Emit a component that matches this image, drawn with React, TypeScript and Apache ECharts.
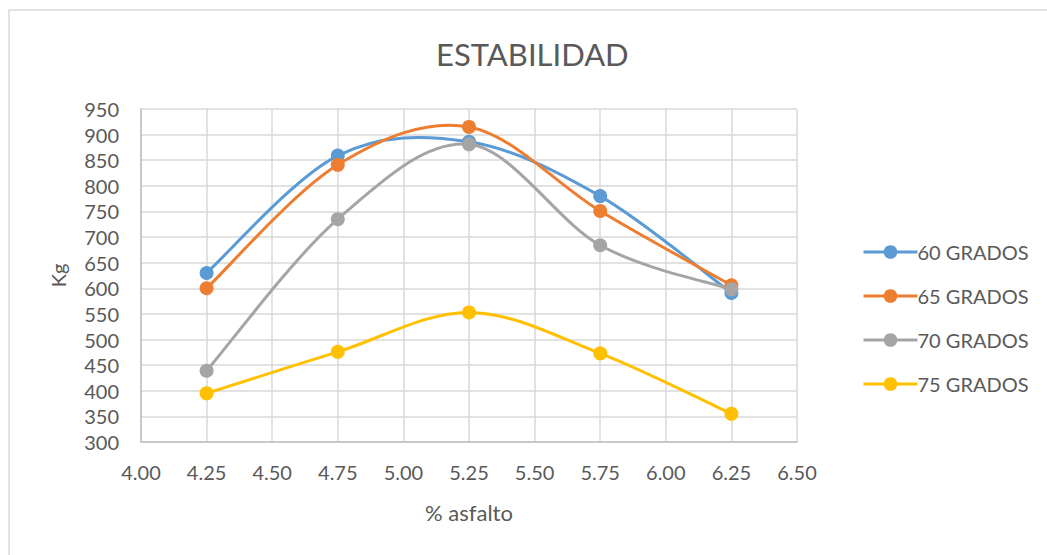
import React, { useEffect, useRef } from "react";
import * as echarts from "echarts";

const xValues = [4.25, 4.75, 5.25, 5.75, 6.25];
const seriesNames = ["60 GRADOS", "65 GRADOS", "70 GRADOS", "75 GRADOS"];
const s60 = [630, 859, 886, 780, 591];
const s65 = [600, 841, 915, 751, 606];
const s70 = [439, 735, 881, 684, 598];
const s75 = [395, 476, 553, 473, 355];
const colors = ["#5B9BD5", "#ED7D31", "#A5A5A5", "#FFC000"];

const FONT = "Lato, 'Open Sans', sans-serif";
const TEXT = "#595959";

function smoothPath(pts: number[][]): string {
  // Catmull-Rom style cubic Bezier (Excel-like smoothing)
  const n = pts.length;
  let d = `M${pts[0][0]},${pts[0][1]}`;
  for (let i = 0; i < n - 1; i++) {
    const p0 = pts[Math.max(i - 1, 0)];
    const p1 = pts[i];
    const p2 = pts[i + 1];
    const p3 = pts[Math.min(i + 2, n - 1)];
    const c1x = p1[0] + (p2[0] - p0[0]) / 6;
    const c1y = p1[1] + (p2[1] - p0[1]) / 6;
    const c2x = p2[0] - (p3[0] - p1[0]) / 6;
    const c2y = p2[1] - (p3[1] - p1[1]) / 6;
    d += ` C${c1x},${c1y} ${c2x},${c2y} ${p2[0]},${p2[1]}`;
  }
  return d;
}

export default function App() {
  const ref = useRef<HTMLDivElement>(null);
  useEffect(() => {
    if (!ref.current) return;
    const chart = echarts.init(ref.current, undefined, { renderer: "svg" });
    const all = [s60, s65, s70, s75];
    const series: any[] = [];
    seriesNames.forEach((name, i) => {
      const data = xValues.map((x, j) => [x, all[i][j]]);
      series.push({
        name: "curve" + i,
        type: "custom",
        coordinateSystem: "cartesian2d",
        silent: true,
        data,
        encode: { x: 0, y: 1 },
        renderItem: (params: any, api: any) => {
          if (params.dataIndex !== 0) return null;
          const pts = data.map((p) => api.coord(p));
          return {
            type: "path",
            shape: { pathData: smoothPath(pts) },
            style: { fill: "none", stroke: colors[i], lineWidth: 3, lineCap: "round", lineJoin: "round" },
          };
        },
      });
      series.push({
        name,
        type: "line",
        symbol: "circle",
        symbolSize: 14,
        lineStyle: { width: 3, color: colors[i], opacity: 0 },
        itemStyle: { color: colors[i] },
        data,
      });
    });
    chart.setOption({
      animation: false,
      backgroundColor: "#ffffff",
      textStyle: { fontFamily: FONT },
      title: {
        text: "ESTABILIDAD",
        left: 431,
        top: 33,
        textStyle: { fontFamily: FONT, fontSize: 31, fontWeight: "normal", color: TEXT },
      },
      graphic: [
        {
          type: "rect",
          shape: { x: 9, y: 10, width: 1100, height: 600 },
          style: { fill: "none", stroke: "#d9d9d9", lineWidth: 1.5 },
          silent: true,
          z: -1,
        },
      ],
      legend: {
        orient: "vertical",
        left: 857,
        top: 237,
        itemWidth: 54,
        itemHeight: 17,
        itemGap: 24,
        lineStyle: { width: 3 },
        textStyle: { fontFamily: FONT, fontSize: 20, color: TEXT, padding: [0, 0, 0, -5] },
        data: seriesNames.map((name, i) => ({
          name,
          lineStyle: { width: 3, color: colors[i], opacity: 1 },
        })),
      },
      grid: { left: 141, top: 109, right: 250, bottom: 113, containLabel: false },
      xAxis: {
        type: "value",
        min: 4,
        max: 6.5,
        interval: 0.25,
        name: "% asfalto",
        nameLocation: "middle",
        nameGap: 59,
        nameTextStyle: { fontFamily: FONT, fontSize: 22, color: TEXT },
        axisLine: { show: true, lineStyle: { color: "#bfbfbf", width: 1.5 } },
        axisTick: { show: false },
        axisLabel: {
          formatter: (v: number) => v.toFixed(2),
          fontFamily: FONT,
          fontSize: 20,
          color: TEXT,
          margin: 20,
        },
        splitLine: { show: true, lineStyle: { color: "#d9d9d9", width: 1.5 } },
      },
      yAxis: {
        type: "value",
        min: 300,
        max: 950,
        interval: 50,
        name: "Kg",
        nameLocation: "middle",
        nameGap: 73,
        nameRotate: 90,
        nameTextStyle: { fontFamily: FONT, fontSize: 20, color: TEXT },
        axisLine: { show: true, lineStyle: { color: "#bfbfbf", width: 1.5 } },
        axisTick: { show: false },
        axisLabel: { fontFamily: FONT, fontSize: 20, color: TEXT, margin: 22 },
        splitLine: { show: true, lineStyle: { color: "#d9d9d9", width: 1.5 } },
      },
      series,
    });
    return () => chart.dispose();
  }, []);
  return (
    <div
      ref={ref}
      style={{ position: "fixed", left: 0, top: 0, width: 1047, height: 555 }}
    />
  );
}
